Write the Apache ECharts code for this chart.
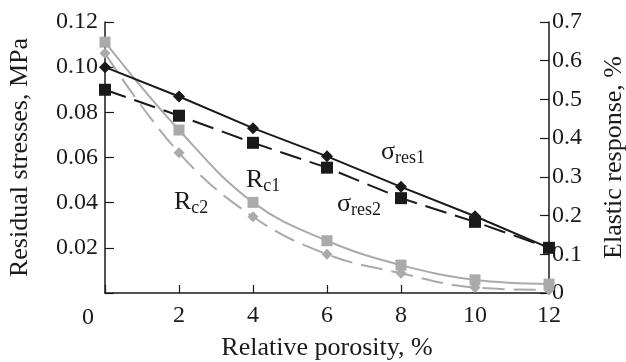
<!DOCTYPE html>
<html>
<head>
<meta charset="utf-8">
<script src="https://cdn.jsdelivr.net/npm/echarts@6/dist/echarts.min.js"></script>
<style>
  html, body { margin: 0; padding: 0; background: #fff; }
  #chart { width: 626px; height: 362px; }
</style>
</head>
<body>
<div id="chart"></div>
<script>
// porosity, % (x axis)
const porosity = [0, 2, 4, 6, 8, 10, 12];

// residual stresses, MPa (left axis)
const sigmaRes1 = [0.100, 0.087, 0.073, 0.0605, 0.047, 0.034, 0.020];
const sigmaRes2 = [0.090, 0.0785, 0.0665, 0.0555, 0.042, 0.0315, 0.020];

// elastic response, % (right axis)
const rc1 = [0.648, 0.421, 0.234, 0.135, 0.072, 0.034, 0.023];
const rc2 = [0.619, 0.362, 0.197, 0.100, 0.051, 0.014, 0.008];

const FONT = 'Liberation Serif';
const INK = '#1a1a1a';
const GREY = '#aaaaaa';

const pairs = (ys) => porosity.map((x, i) => [x, ys[i]]);

const chart = echarts.init(document.getElementById('chart'));

// label with subscript, e.g. σ + res1
function subLabel(x, y, base, sub) {
    return {
        type: 'text',
        left: x,
        top: y,
        style: {
            text: `{b|${base}}{s|${sub}}`,
            rich: {
                b: { fontFamily: FONT, fontSize: 26, fill: INK },
                s: { fontFamily: FONT, fontSize: 18, fill: INK, padding: [12, 0, 0, 0] }
            }
        }
    };
}

const option = {
    animation: false,
    // fixed plot box, don't let v6 shrink it to fit the names
    grid: { left: 105, right: 77, top: 22, bottom: 69, outerBoundsMode: 'none' },
    xAxis: {
        type: 'value',
        min: 0,
        max: 12,
        interval: 2,
        name: 'Relative porosity, %',
        nameLocation: 'middle',
        nameGap: 42,
        nameTextStyle: { fontFamily: FONT, fontSize: 26, color: INK },
        axisLine: { lineStyle: { color: INK, width: 1.5 } },
        axisTick: { inside: true, length: 8, lineStyle: { color: INK, width: 1.2 } },
        axisLabel: {
            fontFamily: FONT, fontSize: 24, color: INK, margin: 11,
            formatter: (v) => (v === 0 ? '' : String(v))
        },
        splitLine: { show: false }
    },
    yAxis: [
        {
            type: 'value',
            min: 0,
            max: 0.12,
            interval: 0.02,
            name: 'Residual stresses, MPa',
            nameLocation: 'middle',
            nameGap: 72,
            nameTextStyle: { fontFamily: FONT, fontSize: 26, color: INK },
            axisLine: { show: true, lineStyle: { color: INK, width: 1.5 } },
            axisTick: { show: true, inside: true, length: 9, lineStyle: { color: INK, width: 1.2 } },
            axisLabel: {
                fontFamily: FONT, fontSize: 24, color: INK, margin: 7,
                formatter: (v) => (v === 0 ? '' : v.toFixed(2))
            },
            splitLine: { show: false }
        },
        {
            type: 'value',
            position: 'right',
            min: 0,
            max: 0.7,
            interval: 0.1,
            name: 'Elastic response, %',
            nameLocation: 'middle',
            nameRotate: 90,
            nameGap: 52,
            nameTextStyle: { fontFamily: FONT, fontSize: 26, color: INK },
            axisLine: { show: true, lineStyle: { color: INK, width: 1.5 } },
            axisTick: { show: true, inside: true, length: 9, lineStyle: { color: INK, width: 1.2 } },
            axisLabel: {
                fontFamily: FONT, fontSize: 24, color: INK, margin: 3,
                formatter: (v) => (v === 0 ? '0' : v.toFixed(1))
            },
            splitLine: { show: false }
        }
    ],
    series: [
        {
            name: 'Rc2',
            type: 'line',
            yAxisIndex: 1,
            data: pairs(rc2),
            smooth: 0.4,
            clip: false,
            symbol: 'diamond',
            symbolSize: 11,
            lineStyle: { color: GREY, width: 2, type: [22, 9] },
            itemStyle: { color: GREY }
        },
        {
            name: 'Rc1',
            type: 'line',
            yAxisIndex: 1,
            data: pairs(rc1),
            smooth: 0.4,
            clip: false,
            symbol: 'rect',
            symbolSize: 11,
            lineStyle: { color: GREY, width: 2 },
            itemStyle: { color: GREY }
        },
        {
            name: 'σres2',
            type: 'line',
            yAxisIndex: 0,
            data: pairs(sigmaRes2),
            clip: false,
            symbol: 'rect',
            symbolSize: 12,
            lineStyle: { color: INK, width: 2, type: [22, 9] },
            itemStyle: { color: INK }
        },
        {
            name: 'σres1',
            type: 'line',
            yAxisIndex: 0,
            data: pairs(sigmaRes1),
            clip: false,
            symbol: 'diamond',
            symbolSize: 12,
            lineStyle: { color: INK, width: 2 },
            itemStyle: { color: INK }
        }
    ],
    graphic: [
        {
            type: 'text',
            left: 82,
            top: 306,
            style: { text: '0', fontFamily: FONT, fontSize: 24, fill: INK }
        },
        subLabel(381, 139, 'σ', 'res1'),
        subLabel(337, 191, 'σ', 'res2'),
        subLabel(246, 167, 'R', 'c1'),
        subLabel(174, 189, 'R', 'c2')
    ]
};

chart.setOption(option);
</script>
</body>
</html>
